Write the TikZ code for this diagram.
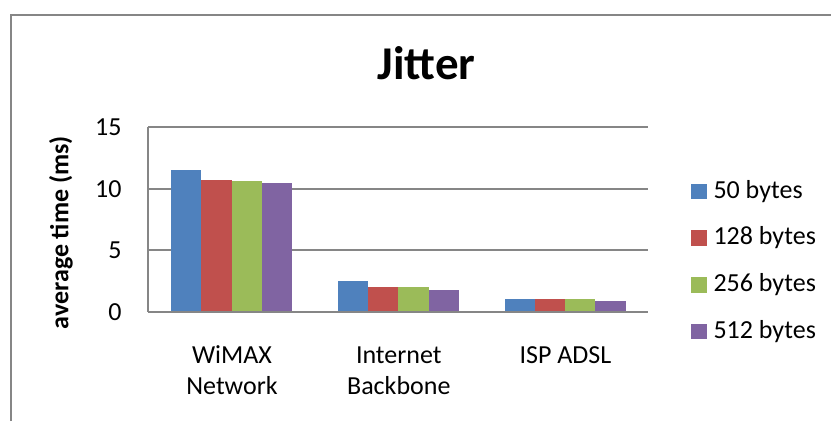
\documentclass[tikz,border=0pt]{standalone}
\usepackage{fontspec}
\setmainfont{Carlito}
\usepackage{tikz}
\usetikzlibrary{positioning}
\definecolor{series1}{HTML}{4F81BD}
\definecolor{series2}{HTML}{C0504D}
\definecolor{series3}{HTML}{9BBB59}
\definecolor{series4}{HTML}{8064A2}
\definecolor{gridgray}{HTML}{868686}

\tikzset{
  gridline/.style={draw=gridgray, line width=1.7pt},
  lbl/.style={inner sep=0pt, font=\fontsize{26}{31}\selectfont},
  ticklabel/.style={lbl, anchor=east},
  catlabel/.style={lbl, align=center, anchor=base},
  legtext/.style={lbl, anchor=west},
}

\begin{document}
\begin{tikzpicture}[x=1pt, y=-1pt]
  \useasboundingbox (0,0) rectangle (831,421);
  \fill[white] (0,0) rectangle (831,421);

  % Outer chart frame
  \draw[gridline] (10.7,421) -- (10.7,15) -- (831,15);

  % Title
  \node[lbl, anchor=base, font=\fontsize{47}{56}\selectfont\bfseries] (title) at (426.7,79.3) {Jitter};

  % Gridlines and axes
  \foreach \yv/\ypos in {15/127.2, 10/188.7, 5/250.2} {
    \draw[gridline] (148.3,\ypos) -- (648.4,\ypos);
    \node[ticklabel] (tick\yv) at (121.7,\ypos) {\yv};
  }
  \draw[gridline] (148.3,127.2) -- (148.3,311.7);
  \node[ticklabel] (tick0) at (121.7,311.7) {0};

  % Bars, one group per category
  \begin{scope}[shift={(148.3,311.7)}, y=12.3pt]
    \foreach \vals [count=\c from 0] in {{11.5,10.7,10.6,10.5},{2.5,2.0,2.0,1.8},{1.0,1.0,1.0,0.9}} {
      \foreach \v [count=\s from 1] in \vals {
        \fill[series\s] ({22.8+166.7*\c+30.3*(\s-1)},0) rectangle +(30.3,\v);
      }
    }
  \end{scope}
  \draw[gridline] (148.3,311.7) -- (648.4,311.7);

  % Axis labels (base anchor sits on the last line)
  \node[lbl, rotate=90, font=\fontsize{26}{31}\selectfont\bfseries] (ylabel) at (61,232.5) {average time (ms)};
  \node[catlabel] (cat1) at (232,394.3) {WiMAX\\Network};
  \node[catlabel] (cat2) at (398.8,394.3) {Internet\\Backbone};
  \node[catlabel] (cat3) at (565.5,363.3) {ISP ADSL};

  % Legend
  \foreach \name [count=\s from 1] in {50,128,256,512} {
    \fill[series\s] (691,{191.3+46.7*(\s-1)-7.8}) rectangle +(15.7,15.7);
    \node[legtext] (leg\s) at (713.3,{191.3+46.7*(\s-1)}) {\name{} bytes};
  }
\end{tikzpicture}
\end{document}
